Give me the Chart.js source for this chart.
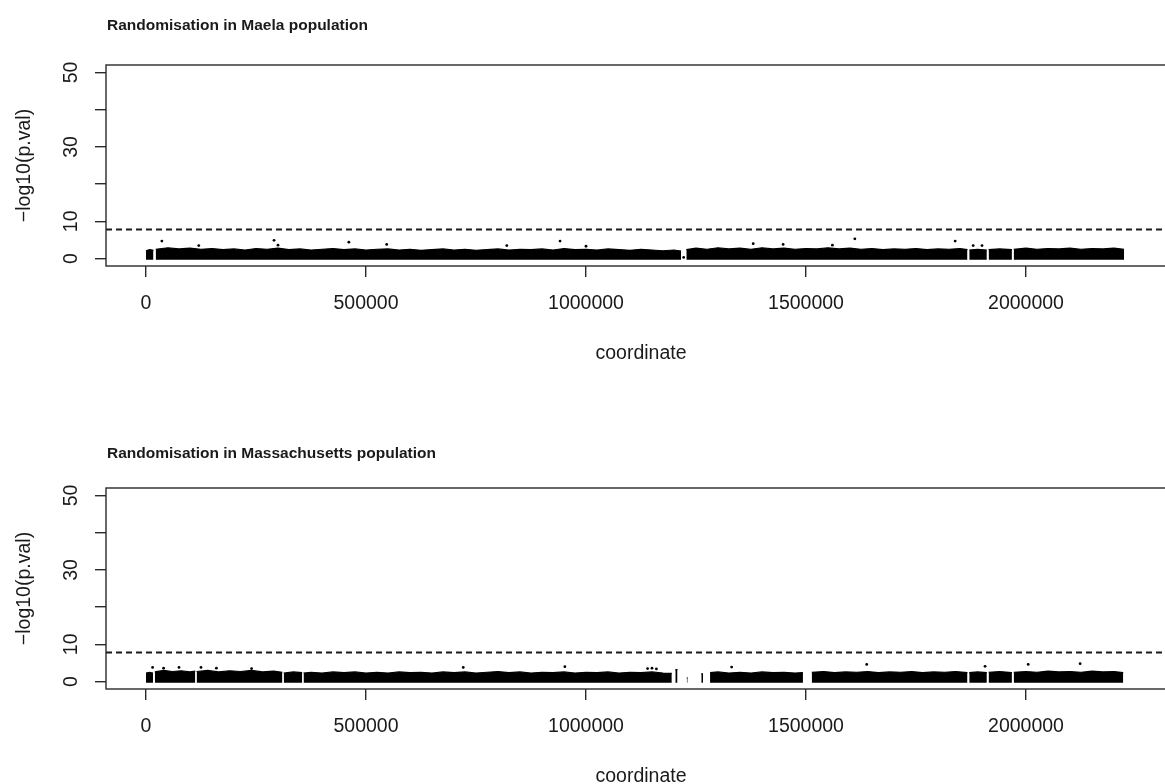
<!DOCTYPE html>
<html>
<head>
<meta charset="utf-8">
<script src="https://cdn.jsdelivr.net/npm/chart.js@4.4.1/dist/chart.umd.min.js"></script>
<style>
  html, body { margin: 0; padding: 0; background: #fff; overflow: hidden; width: 1165px; height: 784px; }
  canvas { position: absolute; left: 0; }
  #maela { top: 0; }
  #mass { top: 423px; }
</style>
</head>
<body>
<canvas id="maela" width="1200" height="423"></canvas>
<canvas id="mass" width="1200" height="423"></canvas>
<script>
// ---- axis ticks ----
const xTicks = [0, 500000, 1000000, 1500000, 2000000];
const yTicks = [0, 10, 20, 30, 40, 50];
const yTickLabels = [0, 10, 30, 50];
const threshold = 7.8;            // significance line, -log10(p)

// ---- Maela: upper edge of the dense SNP band (coordinate in kb, -log10 p); null = no SNPs ----
const maelaPos = [0, 8, 17, 19.5,
  22, 50, 75, 100, 125, 150, 175, 200, 225, 250, 275, 300, 325, 350, 375, 400, 425, 450, 475, 500,
  525, 550, 575, 600, 625, 650, 675, 700, 725, 750, 775, 800, 825, 850, 875, 900, 925, 950, 975, 1000,
  1025, 1050, 1075, 1100, 1125, 1150, 1175, 1200, 1216, 1222,
  1228, 1250, 1275, 1300, 1325, 1350, 1375, 1400, 1425, 1450, 1475, 1500, 1525, 1550, 1575, 1600,
  1625, 1650, 1675, 1700, 1725, 1750, 1775, 1800, 1825, 1850, 1867, 1869,
  1871, 1890, 1911, 1913,
  1915, 1940, 1968, 1970,
  1972, 2000, 2025, 2050, 2075, 2100, 2125, 2150, 2175, 2200, 2223];
const maelaTop = [2.1, 2.4, 2.2, null,
  2.5, 2.9, 2.6, 2.8, 2.5, 2.7, 2.4, 2.6, 2.3, 2.7, 2.5, 2.8, 2.4, 2.6, 2.3, 2.5, 2.7, 2.4, 2.6, 2.3,
  2.5, 2.6, 2.3, 2.5, 2.2, 2.4, 2.6, 2.3, 2.5, 2.2, 2.4, 2.6, 2.3, 2.5, 2.4, 2.6, 2.3, 2.7, 2.4, 2.5,
  2.3, 2.6, 2.4, 2.2, 2.5, 2.3, 2.1, 2.3, 2.0, null,
  2.4, 2.8, 2.5, 2.9, 2.6, 2.8, 2.5, 2.9, 2.6, 2.8, 2.5, 2.7, 2.6, 2.9, 2.6, 2.8,
  2.5, 2.7, 2.4, 2.6, 2.5, 2.7, 2.4, 2.6, 2.5, 2.7, 2.4, null,
  2.3, 2.5, 2.3, null,
  2.4, 2.6, 2.4, null,
  2.5, 2.8, 2.5, 2.7, 2.6, 2.8, 2.5, 2.7, 2.6, 2.8, 2.5];
// isolated SNPs standing above the band
const maelaHitPos = [36, 120, 291, 300, 461, 547, 820, 941, 1000, 1222, 1380, 1448, 1560, 1611, 1839, 1880, 1900];
const maelaHitVal = [4.7, 3.5, 4.9, 3.6, 4.4, 3.8, 3.5, 4.7, 3.3, 0.3, 4.0, 3.8, 3.6, 5.3, 4.7, 3.5, 3.5];

// ---- Massachusetts ----
const massPos = [0, 8, 16, 18,
  20, 40, 60, 80, 100, 112, 113.5,
  115, 140, 165, 190, 215, 240, 265, 290, 310, 311.5,
  313, 335, 355, 356.5,
  358, 375, 400, 425, 450, 475, 500, 525, 550, 575, 600, 625, 650, 675, 700, 725, 750, 775, 800,
  825, 850, 875, 900, 925, 950, 975, 1000, 1025, 1050, 1075, 1100, 1125, 1150, 1175, 1195, 1199,
  1203, 1208, 1218,
  1229, 1231, 1245,
  1262, 1266, 1274,
  1282, 1300, 1325, 1350, 1375, 1400, 1425, 1450, 1475, 1493, 1503,
  1513, 1540, 1565, 1590, 1615, 1640, 1665, 1690, 1715, 1740, 1765, 1790, 1815, 1840, 1867, 1869,
  1871, 1890, 1911, 1913,
  1915, 1940, 1968, 1970,
  1972, 2000, 2025, 2050, 2075, 2100, 2125, 2150, 2175, 2200, 2221];
const massTop = [2.3, 2.5, 2.3, null,
  2.6, 3.0, 2.7, 2.9, 2.6, 2.8, null,
  2.7, 3.0, 2.6, 2.9, 2.7, 3.0, 2.6, 2.8, 2.5, null,
  2.3, 2.6, 2.4, null,
  2.3, 2.5, 2.3, 2.6, 2.4, 2.6, 2.3, 2.5, 2.3, 2.6, 2.4, 2.5, 2.3, 2.6, 2.4, 2.6, 2.3, 2.5, 2.7,
  2.4, 2.6, 2.3, 2.5, 2.4, 2.6, 2.3, 2.5, 2.4, 2.6, 2.3, 2.5, 2.4, 2.6, 2.3, 2.2, null,
  3.2, 3.2, null,
  1.0, 1.0, null,
  2.1, 2.1, null,
  2.4, 2.6, 2.3, 2.5, 2.3, 2.6, 2.4, 2.5, 2.3, 2.4, null,
  2.5, 2.7, 2.4, 2.6, 2.5, 2.7, 2.4, 2.6, 2.5, 2.7, 2.4, 2.6, 2.5, 2.7, 2.4, null,
  2.4, 2.6, 2.4, null,
  2.5, 2.7, 2.4, null,
  2.5, 2.7, 2.5, 2.8, 2.6, 2.7, 2.5, 2.8, 2.6, 2.7, 2.4];
const massHitPos = [15, 40, 75, 125, 160, 240, 721, 952, 1140, 1150, 1160, 1331, 1638, 1907, 2005, 2123];
const massHitVal = [3.8, 3.6, 3.8, 3.8, 3.6, 3.5, 3.8, 4.0, 3.5, 3.6, 3.4, 3.9, 4.6, 4.1, 4.6, 4.8];

// ---- styling ----
const INK = '#1a1a1a';
const AXIS = '#2a2a2a';
const FONT = '"Liberation Sans", Arial, Helvetica, sans-serif';
const X_MIN = -90909, X_MAX = 2340909;

const toXY = (pos, val) => pos.map((p, i) => ({ x: p * 1000, y: val[i] }));

// frame, rotated y tick labels and the panel heading
const panelDecor = {
  id: 'panelDecor',
  afterDraw(chart, args, opts) {
    const { ctx, chartArea: a, scales: { y } } = chart;
    ctx.save();
    ctx.strokeStyle = AXIS;
    ctx.lineWidth = 1.4;
    ctx.strokeRect(a.left, a.top, a.right - a.left, a.bottom - a.top);

    ctx.fillStyle = INK;
    ctx.font = '19.5px ' + FONT;
    ctx.textAlign = 'center';
    ctx.textBaseline = 'middle';
    yTickLabels.forEach(v => {
      ctx.save();
      ctx.translate(72, y.getPixelForValue(v));
      ctx.rotate(-Math.PI / 2);
      ctx.fillText(String(v), 0, 0);
      ctx.restore();
    });

    ctx.font = 'bold 15.5px ' + FONT;
    ctx.textAlign = 'left';
    ctx.textBaseline = 'alphabetic';
    ctx.fillText(opts.title, a.left + 1, opts.titleY);
    ctx.restore();
  }
};

function manhattan(id, title, titleY, pos, top, hitPos, hitVal) {
  return new Chart(document.getElementById(id), {
    type: 'line',
    data: {
      datasets: [
        {
          label: 'band',
          data: toXY(pos, top),
          borderColor: '#000',
          backgroundColor: '#000',
          borderWidth: 1.2,
          pointRadius: 0,
          tension: 0,
          spanGaps: false,
          fill: { value: -0.3 }
        },
        {
          label: 'hits',
          data: toXY(hitPos, hitVal),
          showLine: false,
          pointRadius: 1.4,
          pointBackgroundColor: '#000',
          pointBorderWidth: 0
        },
        {
          label: 'threshold',
          data: [{ x: X_MIN, y: threshold }, { x: X_MAX, y: threshold }],
          borderColor: '#1a1a1a',
          borderWidth: 2,
          borderDash: [6, 4],
          pointRadius: 0,
          fill: false
        }
      ]
    },
    options: {
      responsive: false,
      devicePixelRatio: 1,
      animation: false,
      events: [],
      layout: { padding: { top: 65, right: 24, left: 0, bottom: 0 } },
      plugins: {
        legend: { display: false },
        tooltip: { enabled: false },
        panelDecor: { title, titleY }
      },
      scales: {
        x: {
          type: 'linear',
          min: X_MIN,
          max: X_MAX,
          afterBuildTicks: s => { s.ticks = xTicks.map(v => ({ value: v })); },
          afterFit: s => { s.height = 157; },
          border: { display: false },
          grid: { drawOnChartArea: false, drawTicks: true, tickLength: 11, color: AXIS, lineWidth: 1.4 },
          ticks: {
            color: INK,
            font: { family: FONT, size: 19.5 },
            padding: 15,
            maxRotation: 0,
            autoSkip: false,
            callback: v => String(v)
          },
          title: {
            display: true,
            text: 'coordinate',
            color: INK,
            font: { family: FONT, size: 19.5 },
            padding: { top: 0, bottom: 58 }
          }
        },
        y: {
          min: -2,
          max: 52,
          afterBuildTicks: s => { s.ticks = yTicks.map(v => ({ value: v })); },
          afterFit: s => { s.width = 106; },
          border: { display: false },
          grid: { drawOnChartArea: false, drawTicks: true, tickLength: 11, color: AXIS, lineWidth: 1.4 },
          ticks: { display: false },
          title: {
            display: true,
            text: '\u2212log10(p.val)',
            color: INK,
            font: { family: FONT, size: 19.5 },
            padding: { top: 13, bottom: 0 }
          }
        }
      }
    },
    plugins: [panelDecor]
  });
}

manhattan('maela', 'Randomisation in Maela population', 30, maelaPos, maelaTop, maelaHitPos, maelaHitVal);
manhattan('mass', 'Randomisation in Massachusetts population', 35, massPos, massTop, massHitPos, massHitVal);
</script>
</body>
</html>
